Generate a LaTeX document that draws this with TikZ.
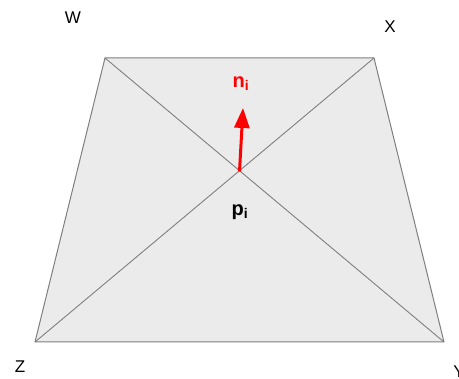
\documentclass[tikz,border=0pt]{standalone}
\usepackage{fontspec}
\setmainfont{Liberation Sans}
\definecolor{facefill}{HTML}{EBEBEB}
\definecolor{edgegray}{HTML}{7F7F7F}
\definecolor{arrred}{HTML}{FF0000}
\usetikzlibrary{arrows.meta}
\begin{document}
\begin{tikzpicture}[x=1pt,y=-1pt,
  corner/.style={font=\fontsize{17}{17}\selectfont, inner sep=0pt},
  edge/.style={draw=edgegray, line width=1pt},
  diag/.style={draw=edgegray, line width=0.9pt},
  vec/.style={draw=arrred, line width=3pt, -{Triangle[length=20pt,width=15pt]}},
  lab/.style={font=\fontsize{20}{20}\selectfont\bfseries, inner sep=0pt}]
\useasboundingbox (0,0) rectangle (459,379);
\coordinate (w) at (105,58);
\coordinate (x) at (374,58);
\coordinate (y) at (444,342);
\coordinate (z) at (35,342);
\fill[facefill] (w) -- (x) -- (y) -- (z) -- cycle;
\draw[diag] (w) -- (y);
\draw[diag] (x) -- (z);
\draw[edge, line join=round] (w) -- (x) -- (y) -- (z) -- cycle;
\coordinate (p) at (239.5,171.5);
\coordinate (tip) at (243,108);
\draw[vec] (p) -- (tip);
\node[corner] (lw) at (73,18) {W};
\node[corner] (lx) at (390,27) {X};
\node[corner] (lz) at (20,367) {Z};
\node[corner] (ly) at (459,372) {Y};
\node[lab, text=arrred] (ln) at (241,84) {n\textsubscript{i}};
\node[lab] (lp) at (240,212) {p\textsubscript{i}};
\end{tikzpicture}
\end{document}
